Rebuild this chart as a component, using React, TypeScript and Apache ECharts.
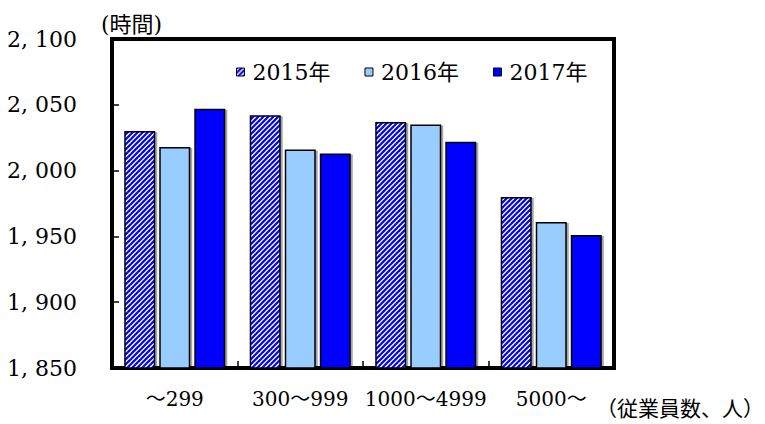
import React, { useEffect, useRef } from "react";
import * as echarts from "echarts";

// Annual working hours by company size (employees)
const categories = ["～299", "300～999", "1000～4999", "5000～"];
const seriesNames = ["2015年", "2016年", "2017年"];
const hours2015 = [2030, 2042, 2037, 1980];
const hours2016 = [2018, 2016, 2035, 1961];
const hours2017 = [2047, 2013, 2022, 1951];
const yTicks = { min: 1850, max: 2100, interval: 50 };

const SERIF = "DejaVu Serif, Noto Sans CJK JP, serif";

function makeStripeTile(): HTMLCanvasElement {
  const size = 10;
  const c = document.createElement("canvas");
  c.width = size;
  c.height = size;
  const ctx = c.getContext("2d")!;
  ctx.fillStyle = "#ffffff";
  ctx.fillRect(0, 0, size, size);
  ctx.strokeStyle = "#0000ff";
  ctx.lineWidth = 2.2;
  for (let k = -10; k <= 30; k += 5) {
    ctx.beginPath();
    ctx.moveTo(k + 6, -6);
    ctx.lineTo(k - 16, 16);
    ctx.stroke();
  }
  return c;
}

function formatHours(v: number): string {
  const th = Math.floor(v / 1000);
  const rest = String(v % 1000).padStart(3, "0");
  return `${th}, ${rest}`;
}

export default function App() {
  const ref = useRef<HTMLDivElement>(null);

  useEffect(() => {
    if (!ref.current) return;
    const chart = echarts.init(ref.current, undefined, { renderer: "svg" });
    const tile = makeStripeTile();
    const stripe: any = { image: tile, repeat: "repeat", imageWidth: 10, imageHeight: 10 };

    const barBase = {
      type: "bar" as const,
      barWidth: 31,
      barGap: "13%",
    };
    const itemStyleFor = (color: any) => ({
      color,
      borderColor: "#000",
      borderWidth: 1.5,
      shadowColor: "rgba(0,0,0,0.35)",
      shadowOffsetX: 2,
      shadowOffsetY: 1,
      shadowBlur: 1,
    });

    chart.setOption({
      animation: false,
      backgroundColor: "#ffffff",
      grid: {
        left: 112,
        right: 151,
        top: 39,
        bottom: 56,
        show: true,
        borderColor: "#000",
        borderWidth: 4,
        backgroundColor: "transparent",
      },
      legend: {
        data: seriesNames,
        left: 236,
        top: 61,
        padding: 0,
        itemWidth: 8,
        itemHeight: 8,
        itemGap: 34,
        icon: "rect",
        itemStyle: { borderColor: "#000", borderWidth: 1 },
        textStyle: {
          fontFamily: SERIF,
          fontSize: 22,
          color: "#000",
          padding: [0, 0, 0, 3],
        },
      },
      xAxis: {
        type: "category",
        data: categories,
        axisLine: { show: false },
        axisTick: {
          show: true,
          inside: true,
          length: 7,
          lineStyle: { color: "#000", width: 1.5 },
        },
        axisLabel: {
          interval: 0,
          fontFamily: SERIF,
          fontSize: 20,
          color: "#000",
          margin: 21,
        },
        splitLine: { show: false },
      },
      yAxis: {
        type: "value",
        min: yTicks.min,
        max: yTicks.max,
        interval: yTicks.interval,
        axisLine: { show: false },
        axisTick: {
          show: true,
          inside: true,
          length: 7,
          lineStyle: { color: "#000", width: 1.5 },
        },
        axisLabel: {
          fontFamily: SERIF,
          fontSize: 22,
          color: "#000",
          margin: 35,
          formatter: (v: number) => formatHours(v),
        },
        splitLine: { show: false },
      },
      series: [
        { ...barBase, name: seriesNames[0], data: hours2015, itemStyle: itemStyleFor(stripe) },
        { ...barBase, name: seriesNames[1], data: hours2016, itemStyle: itemStyleFor("#99ccff") },
        { ...barBase, name: seriesNames[2], data: hours2017, itemStyle: itemStyleFor("#0000ff") },
      ],
      graphic: [
        {
          type: "text",
          left: 101,
          top: 13,
          style: { text: "(時間)", fontFamily: SERIF, fontSize: 22, fill: "#000" },
        },
        {
          type: "text",
          left: 596,
          top: 398,
          style: { text: "（従業員数、人）", fontFamily: SERIF, fontSize: 21, fill: "#000" },
        },
      ],
    });

    return () => chart.dispose();
  }, []);

  return (
    <div
      ref={ref}
      style={{ position: "fixed", left: 0, top: 0, width: 765, height: 424 }}
    />
  );
}
